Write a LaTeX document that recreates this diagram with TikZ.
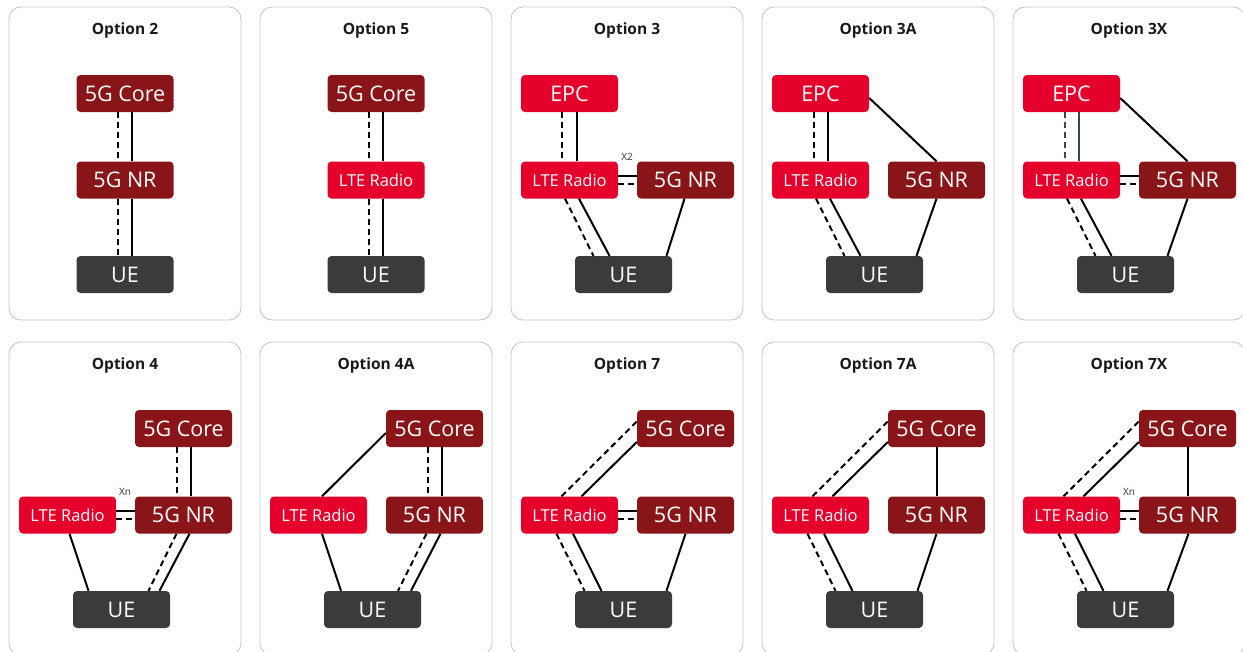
\documentclass[tikz,border=0pt]{standalone}
\usepackage{fontspec}
\setmainfont{Open Sans}
\definecolor{nrred}{HTML}{8A1519}
\definecolor{ltered}{HTML}{E4002B}
\definecolor{uegray}{HTML}{3B3C3A}
\definecolor{panelgray}{HTML}{C8C8C8}
\definecolor{slate}{HTML}{3A4550}
\definecolor{lblgray}{HTML}{333333}
\tikzset{
 panelbox/.style={draw=panelgray, line width=0.9pt, rounded corners=12pt, fill=white},
 ttl/.style={font=\fontsize{15.5}{18}\selectfont\bfseries, text=black!90},
 basebox/.style={rounded corners=4pt, minimum width=97pt, minimum height=37pt, inner sep=0pt, text=white, font=\fontsize{21.5}{24}\selectfont},
 nrbox/.style={basebox, fill=nrred},
 epcbox/.style={basebox, fill=ltered},
 ltebox/.style={basebox, fill=ltered, font=\fontsize{16.5}{20}\selectfont},
 uebox/.style={basebox, fill=uegray},
 sline/.style={line width=2pt, draw=black},
 dline/.style={line width=2pt, draw=black, dash pattern=on 6pt off 4pt},
 smalllbl/.style={font=\fontsize{10}{12}\selectfont, text=lblgray, inner sep=0pt}
}
\begin{document}
\begin{tikzpicture}[x=1pt,y=-1pt]
\clip (0,0) rectangle (1243,651);
\fill[white] (0,0) rectangle (1243,651);

% ---------- Option 2
\begin{scope}[shift={(9,7)}]
\draw[panelbox] (0,0) rectangle (232,313);
\node[ttl] (t2) at (116,23.5) {Option 2};
\node[nrbox] (o2c) at (116,86.5) {5G Core};
\node[nrbox] (o2n) at (116,173) {5G NR};
\node[uebox] (o2u) at (116,267.5) {UE};
\draw[dline] ([xshift=-7pt]o2c.south) -- ([xshift=-7pt]o2n.north);
\draw[sline] ([xshift=7pt]o2c.south) -- ([xshift=7pt]o2n.north);
\draw[dline] ([xshift=-7pt]o2n.south) -- ([xshift=-7pt]o2u.north);
\draw[sline] ([xshift=7pt]o2n.south) -- ([xshift=7pt]o2u.north);
\end{scope}

% ---------- Option 5
\begin{scope}[shift={(260,7)}]
\draw[panelbox] (0,0) rectangle (232,313);
\node[ttl] (t5) at (116,23.5) {Option 5};
\node[nrbox] (o5c) at (116,86.5) {5G Core};
\node[ltebox] (o5l) at (116,173) {LTE Radio};
\node[uebox] (o5u) at (116,267.5) {UE};
\draw[dline] ([xshift=-7pt]o5c.south) -- ([xshift=-7pt]o5l.north);
\draw[sline] ([xshift=7pt]o5c.south) -- ([xshift=7pt]o5l.north);
\draw[dline] ([xshift=-7pt]o5l.south) -- ([xshift=-7pt]o5u.north);
\draw[sline] ([xshift=7pt]o5l.south) -- ([xshift=7pt]o5u.north);
\end{scope}

% ---------- Option 3
\begin{scope}[shift={(511,7)}]
\draw[panelbox] (0,0) rectangle (232,313);
\node[ttl] (t3) at (116,23.5) {Option 3};
\node[epcbox] (o3e) at (58.5,86.5) {EPC};
\node[ltebox] (o3l) at (58.5,173) {LTE Radio};
\node[nrbox] (o3n) at (174.5,173) {5G NR};
\node[uebox] (o3u) at (112.5,267.5) {UE};
\node[smalllbl] (o3x) at (116,150) {X2};
\draw[dline] ([xshift=-7.5pt]o3e.south) -- ([xshift=-7.5pt]o3l.north);
\draw[sline] ([xshift=7.5pt]o3e.south) -- ([xshift=7.5pt]o3l.north);
\draw[sline] ([yshift=4.5pt]o3l.east) -- ([yshift=4.5pt]o3n.west);
\draw[dline] ([yshift=-3.5pt]o3l.east) -- ([yshift=-3.5pt]o3n.west);
\draw[dline] ([xshift=-4.5pt]o3l.south) -- ([xshift=-30pt]o3u.north);
\draw[sline] ([xshift=9.5pt]o3l.south) -- ([xshift=-14pt]o3u.north);
\draw[sline] ([xshift=-1pt]o3n.south) -- ([xshift=43pt]o3u.north);
\end{scope}

% ---------- Option 3A
\begin{scope}[shift={(762,7)}]
\draw[panelbox] (0,0) rectangle (232,313);
\node[ttl] (t3a) at (116,23.5) {Option 3A};
\node[epcbox] (o3ae) at (58.5,86.5) {EPC};
\node[ltebox] (o3al) at (58.5,173) {LTE Radio};
\node[nrbox] (o3an) at (174.5,173) {5G NR};
\node[uebox] (o3au) at (112.5,267.5) {UE};
\draw[dline] ([xshift=-7pt]o3ae.south) -- ([xshift=-7pt]o3al.north);
\draw[sline] ([xshift=7pt]o3ae.south) -- ([xshift=7pt]o3al.north);
\draw[sline] ([yshift=-4.5pt]o3ae.east) -- (o3an.north);
\draw[dline] ([xshift=-4.5pt]o3al.south) -- ([xshift=-30pt]o3au.north);
\draw[sline] ([xshift=9.5pt]o3al.south) -- ([xshift=-14pt]o3au.north);
\draw[sline] (o3an.south) -- ([xshift=42pt]o3au.north);
\end{scope}

% ---------- Option 3X
\begin{scope}[shift={(1013,7)}]
\draw[panelbox] (0,0) rectangle (232,313);
\node[ttl] (t3x) at (116,23.5) {Option 3X};
\node[epcbox] (o3xe) at (58.5,86.5) {EPC};
\node[ltebox] (o3xl) at (58.5,173) {LTE Radio};
\node[nrbox] (o3xn) at (174.5,173) {5G NR};
\node[uebox] (o3xu) at (112.5,267.5) {UE};
\draw[dline, draw=slate] ([xshift=-7pt]o3xe.south) -- ([xshift=-7pt]o3xl.north);
\draw[sline, draw=slate] ([xshift=7pt]o3xe.south) -- ([xshift=7pt]o3xl.north);
\draw[sline] ([yshift=-4.5pt]o3xe.east) -- (o3xn.north);
\draw[sline] ([yshift=4.5pt]o3xl.east) -- ([yshift=4.5pt]o3xn.west);
\draw[dline] ([yshift=-3.5pt]o3xl.east) -- ([yshift=-3.5pt]o3xn.west);
\draw[dline] ([xshift=-4.5pt]o3xl.south) -- ([xshift=-30pt]o3xu.north);
\draw[sline] ([xshift=9.5pt]o3xl.south) -- ([xshift=-14pt]o3xu.north);
\draw[sline] (o3xn.south) -- ([xshift=42pt]o3xu.north);
\end{scope}

% ---------- Option 4
\begin{scope}[shift={(9,342)}]
\draw[panelbox] (0,0) rectangle (232,313);
\node[ttl] (t4) at (116,23.5) {Option 4};
\node[nrbox] (o4c) at (174.5,86.5) {5G Core};
\node[ltebox] (o4l) at (58.5,173) {LTE Radio};
\node[nrbox] (o4n) at (174.5,173) {5G NR};
\node[uebox] (o4u) at (112.5,267.5) {UE};
\node[smalllbl] (o4x) at (116,150) {Xn};
\draw[dline] ([xshift=-7pt]o4c.south) -- ([xshift=-7pt]o4n.north);
\draw[sline] ([xshift=7.5pt]o4c.south) -- ([xshift=7.5pt]o4n.north);
\draw[sline] ([yshift=4.5pt]o4l.east) -- ([yshift=4.5pt]o4n.west);
\draw[dline] ([yshift=-3.5pt]o4l.east) -- ([yshift=-3.5pt]o4n.west);
\draw[sline] ([xshift=2pt]o4l.south) -- ([xshift=-33pt]o4u.north);
\draw[dline] ([xshift=-7pt]o4n.south) -- ([xshift=27pt]o4u.north);
\draw[sline] ([xshift=6pt]o4n.south) -- ([xshift=38pt]o4u.north);
\end{scope}

% ---------- Option 4A
\begin{scope}[shift={(260,342)}]
\draw[panelbox] (0,0) rectangle (232,313);
\node[ttl] (t4a) at (116,23.5) {Option 4A};
\node[nrbox] (o4ac) at (174.5,86.5) {5G Core};
\node[ltebox] (o4al) at (58.5,173) {LTE Radio};
\node[nrbox] (o4an) at (174.5,173) {5G NR};
\node[uebox] (o4au) at (112.5,267.5) {UE};
\draw[sline] ([xshift=3.5pt]o4al.north) -- ([yshift=-4.5pt]o4ac.west);
\draw[dline] ([xshift=-7pt]o4ac.south) -- ([xshift=-7pt]o4an.north);
\draw[sline] ([xshift=7pt]o4ac.south) -- ([xshift=7pt]o4an.north);
\draw[sline] ([xshift=3.5pt]o4al.south) -- ([xshift=-31.5pt]o4au.north);
\draw[dline] ([xshift=-8pt]o4an.south) -- ([xshift=25.5pt]o4au.north);
\draw[sline] ([xshift=6pt]o4an.south) -- ([xshift=38.5pt]o4au.north);
\end{scope}

% ---------- Option 7
\begin{scope}[shift={(511,342)}]
\draw[panelbox] (0,0) rectangle (232,313);
\node[ttl] (t7) at (116,23.5) {Option 7};
\node[nrbox] (o7c) at (174.5,86.5) {5G Core};
\node[ltebox] (o7l) at (58.5,173) {LTE Radio};
\node[nrbox] (o7n) at (174.5,173) {5G NR};
\node[uebox] (o7u) at (112.5,267.5) {UE};
\draw[dline] ([xshift=-8pt]o7l.north) -- ([yshift=7pt]o7c.west);
\draw[sline] ([xshift=12pt]o7l.north) -- ([yshift=-13.5pt]o7c.west);
\draw[sline] ([yshift=4.5pt]o7l.east) -- ([yshift=4.5pt]o7n.west);
\draw[dline] ([yshift=-3.5pt]o7l.east) -- ([yshift=-3.5pt]o7n.west);
\draw[dline] ([xshift=-13pt]o7l.south) -- ([xshift=-39pt]o7u.north);
\draw[sline] ([xshift=3.5pt]o7l.south) -- ([xshift=-22pt]o7u.north);
\draw[sline] (o7n.south) -- ([xshift=43pt]o7u.north);
\end{scope}

% ---------- Option 7A
\begin{scope}[shift={(762,342)}]
\draw[panelbox] (0,0) rectangle (232,313);
\node[ttl] (t7a) at (116,23.5) {Option 7A};
\node[nrbox] (o7ac) at (174.5,86.5) {5G Core};
\node[ltebox] (o7al) at (58.5,173) {LTE Radio};
\node[nrbox] (o7an) at (174.5,173) {5G NR};
\node[uebox] (o7au) at (112.5,267.5) {UE};
\draw[dline] ([xshift=-8pt]o7al.north) -- ([yshift=7pt]o7ac.west);
\draw[sline] ([xshift=12pt]o7al.north) -- ([yshift=-13.5pt]o7ac.west);
\draw[sline] (o7ac.south) -- (o7an.north);
\draw[dline] ([xshift=-13pt]o7al.south) -- ([xshift=-39pt]o7au.north);
\draw[sline] ([xshift=3.5pt]o7al.south) -- ([xshift=-22pt]o7au.north);
\draw[sline] (o7an.south) -- ([xshift=43pt]o7au.north);
\end{scope}

% ---------- Option 7X
\begin{scope}[shift={(1013,342)}]
\draw[panelbox] (0,0) rectangle (232,313);
\node[ttl] (t7x) at (116,23.5) {Option 7X};
\node[nrbox] (o7xc) at (174.5,86.5) {5G Core};
\node[ltebox] (o7xl) at (58.5,173) {LTE Radio};
\node[nrbox] (o7xn) at (174.5,173) {5G NR};
\node[uebox] (o7xu) at (112.5,267.5) {UE};
\node[smalllbl] (o7xx) at (116,150) {Xn};
\draw[dline] ([xshift=-8pt]o7xl.north) -- ([yshift=7pt]o7xc.west);
\draw[sline] ([xshift=12pt]o7xl.north) -- ([yshift=-13.5pt]o7xc.west);
\draw[sline] (o7xc.south) -- (o7xn.north);
\draw[sline] ([yshift=4.5pt]o7xl.east) -- ([yshift=4.5pt]o7xn.west);
\draw[dline] ([yshift=-3.5pt]o7xl.east) -- ([yshift=-3.5pt]o7xn.west);
\draw[dline] ([xshift=-13pt]o7xl.south) -- ([xshift=-39pt]o7xu.north);
\draw[sline] ([xshift=3.5pt]o7xl.south) -- ([xshift=-22pt]o7xu.north);
\draw[sline] ([xshift=1pt]o7xn.south) -- ([xshift=42pt]o7xu.north);
\end{scope}
\end{tikzpicture}
\end{document}
